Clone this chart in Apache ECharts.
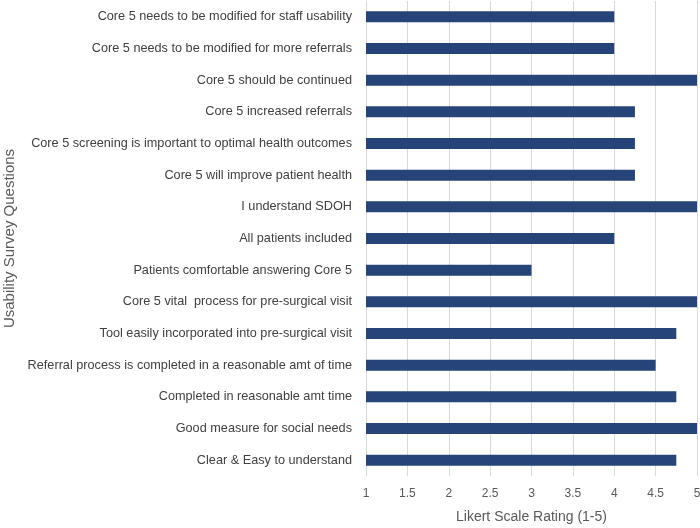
<!DOCTYPE html>
<html><head><meta charset="utf-8">
<script src="https://cdn.jsdelivr.net/npm/echarts@6/dist/echarts.min.js"></script>
<style>html,body{margin:0;padding:0;background:#fff}#c{width:700px;height:528px}</style>
</head><body><div id="c"></div>
<script>
// Top-to-bottom order as shown
const questions = [
  "Core 5 needs to be modified for staff usability",
  "Core 5 needs to be modified for more referrals",
  "Core 5 should be continued",
  "Core 5 increased referrals",
  "Core 5 screening is important to optimal health outcomes",
  "Core 5 will improve patient health",
  "I understand SDOH",
  "All patients included",
  "Patients comfortable answering Core 5",
  "Core 5 vital  process for pre-surgical visit",
  "Tool easily incorporated into pre-surgical visit",
  "Referral process is completed in a reasonable amt of time",
  "Completed in reasonable amt time",
  "Good measure for social needs",
  "Clear & Easy to understand"
];
const ratings = [4, 4, 5, 4.25, 4.25, 4.25, 5, 4, 3, 5, 4.75, 4.5, 4.75, 5, 4.75];
const xTicks = [1, 1.5, 2, 2.5, 3, 3.5, 4, 4.5, 5];

const chart = echarts.init(document.getElementById('c'), null, {renderer: 'canvas'});
const font = '"Liberation Sans", Arial, sans-serif';
chart.setOption({
  animation: false,
  grid: {left: 366, right: 3, top: 1, bottom: 52, containLabel: false, outerBoundsMode: 'none'},
  xAxis: {
    type: 'value', min: xTicks[0], max: xTicks[xTicks.length - 1], interval: 0.5,
    name: 'Likert Scale Rating (1-5)', nameLocation: 'middle', nameGap: 34,
    nameTextStyle: {color: '#595959', fontSize: 14, fontFamily: font},
    axisLine: {show: false}, axisTick: {show: false},
    axisLabel: {color: '#595959', fontSize: 12, fontFamily: font, margin: 12},
    splitLine: {show: true, lineStyle: {color: '#d9d9d9', width: 1}}
  },
  yAxis: {
    type: 'category', data: questions.slice().reverse(),
    name: 'Usability Survey Questions', nameLocation: 'middle', nameGap: 349,
    nameRotate: 90,
    nameTextStyle: {color: '#595959', fontSize: 15, fontFamily: font},
    axisLine: {show: true, lineStyle: {color: '#d9d9d9'}}, axisTick: {show: false},
    axisLabel: {color: '#404040', fontSize: 12.7, fontFamily: font, margin: 14}
  },
  series: [{
    type: 'bar', data: ratings.slice().reverse(), barWidth: 11,
    itemStyle: {color: '#264478'}
  }]
});
</script></body></html>
